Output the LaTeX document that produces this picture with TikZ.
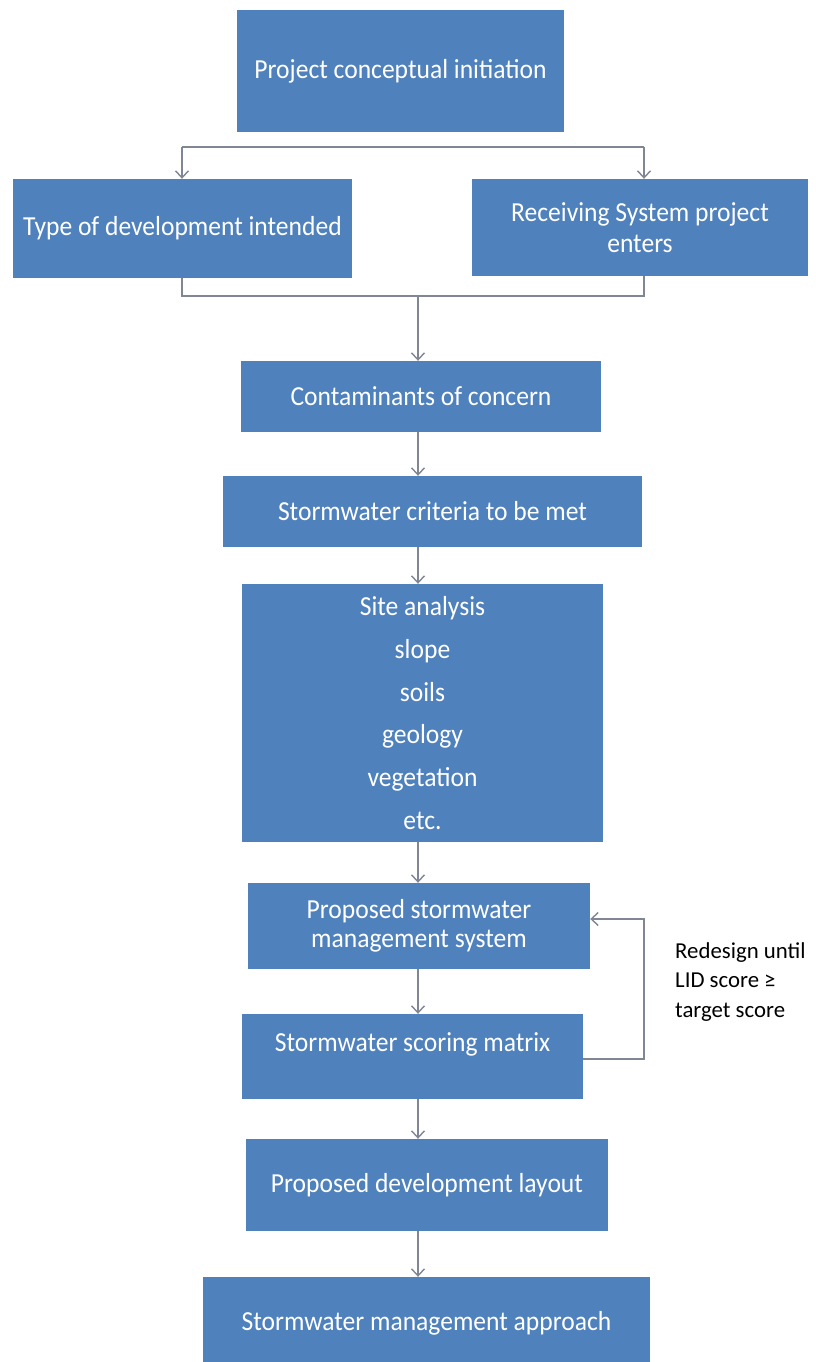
\documentclass[tikz,border=0pt]{standalone}
\usepackage{fontspec}
\setmainfont{Carlito}[FakeStretch=0.93]
\newfontfamily\notefont{Carlito}
\usetikzlibrary{arrows.meta}
\definecolor{boxblue}{RGB}{79,129,189}
\definecolor{linegray}{RGB}{128,134,148}
\begin{document}
\begin{tikzpicture}[x=1pt,y=-1pt,
  box/.style={draw=none,fill=boxblue,text=white,font=\fontsize{27.5}{31}\selectfont,align=center,inner sep=0pt},
  conn/.style={draw=linegray,line width=1.4pt},
  arr/.style={conn,-{Straight Barb[length=7pt,width=13pt,line width=1.4pt]}}]
\useasboundingbox[fill=white] (0,0) rectangle (815,1362);

\node[box,minimum width=327pt,minimum height=122pt] (b1) at (400.5,71) {Project conceptual initiation};
\node[box,minimum width=339pt,minimum height=99pt] (b2) at (182.5,228.5) {Type of development intended};
\node[box,minimum width=336pt,minimum height=97pt] (b3) at (640,227.5) {Receiving System project\\enters};
\node[box,minimum width=360pt,minimum height=71pt] (b4) at (421,396.5) {Contaminants of concern};
\node[box,minimum width=419pt,minimum height=71pt] (b5) at (432.5,511.5) {Stormwater criteria to be met};
\node[box,minimum width=361pt,minimum height=258pt,font=\fontsize{27.5}{42.7}\selectfont] (b6) at (422.5,713) {Site analysis\\slope\\soils\\geology\\vegetation\\etc.};
\node[box,minimum width=342pt,minimum height=86pt,font=\fontsize{27.5}{29.5}\selectfont] (b7) at (419,926) {Proposed stormwater\\management system};
\node[box,minimum width=341pt,minimum height=85pt] (b8) at (412.5,1056.5) {\raisebox{29pt}{Stormwater scoring matrix}};
\node[box,minimum width=362pt,minimum height=92pt] (b9) at (427,1185) {Proposed development layout};
\node[box,minimum width=447pt,minimum height=92pt] (b10) at (426.5,1323) {Stormwater management approach};

\node[anchor=north west,align=left,inner sep=0pt,font=\notefont\fontsize{22.8}{29.5}\selectfont] (note) at (675,942) {Redesign until\\LID score ≥\\target score};

% split from initiation
\coordinate (t1) at (182,147);
\coordinate (t2) at (644,147);
\draw[conn] (t1) -- (t2);
\draw[arr] (t1) -- (b2.north -| t1);
\draw[arr] (t2) -- (b3.north -| t2);

% join
\coordinate (j1) at (182,296);
\coordinate (j2) at (644,296);
\coordinate (jm) at (418,296);
\draw[conn] (b2.south -| j1) -- (j1) -- (j2) -- (b3.south -| j2);
\draw[arr] (jm) -- (b4.north -| jm);

% main chain
\draw[arr] (b4.south -| jm) -- (b5.north -| jm);
\draw[arr] (b5.south -| jm) -- (b6.north -| jm);
\draw[arr] (b6.south -| jm) -- (b7.north -| jm);
\draw[arr] (b7.south -| jm) -- (b8.north -| jm);
\draw[arr] (b8.south -| jm) -- (b9.north -| jm);
\draw[arr] (b9.south -| jm) -- (b10.north -| jm);

% feedback loop
\coordinate (l1) at (644,1059);
\coordinate (l2) at (644,919);
\draw[arr] (b8.east |- l1) -- (l1) -- (l2) -- (b7.east |- l2);
\end{tikzpicture}
\end{document}
